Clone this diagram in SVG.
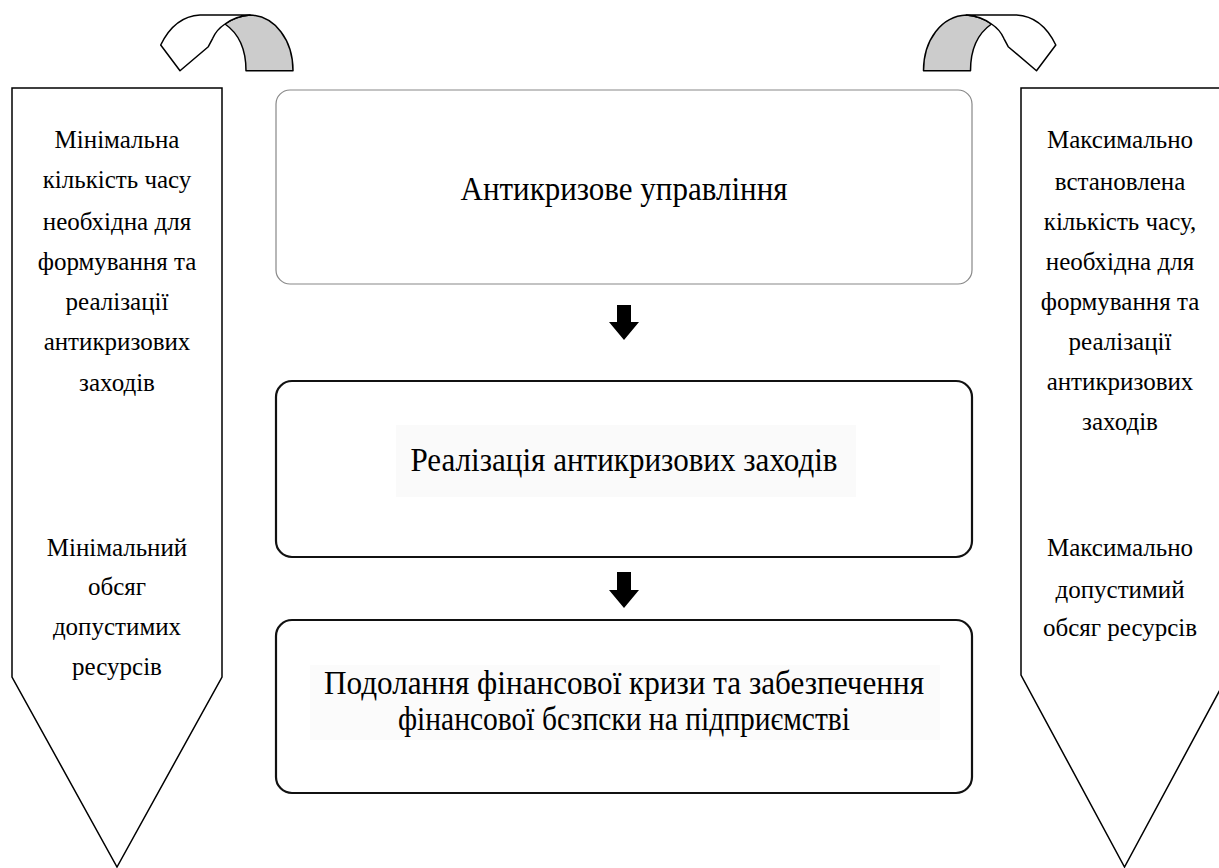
<svg xmlns="http://www.w3.org/2000/svg" width="1219" height="868" viewBox="0 0 1219 868">
<style>
.side{fill:#fff;stroke:#000;stroke-width:1.5}
.st{font-family:'Liberation Serif','Times New Roman','DejaVu Serif',serif;font-size:25px;fill:#000;text-anchor:middle}
.bt{font-family:'Liberation Serif','Times New Roman','DejaVu Serif',serif;font-size:34px;fill:#000;text-anchor:middle}
.box1{fill:#fff;stroke:#888;stroke-width:1.2}
.box{fill:#fff;stroke:#111;stroke-width:2.2}
.ribW{fill:#fff;stroke:#000;stroke-width:1.5;stroke-linejoin:round}
.ribG{fill:#ccc;stroke:#000;stroke-width:1.5;stroke-linejoin:round}
.arr{fill:#000}
</style>
<rect width="1219" height="868" fill="#fff"/>
<defs>
<g id="ribbon">
<path class="ribG" d="M225,24 Q236,16 250,15 C275,16 293,40 293,70.7 L246,70.7 C246,48 238,33 225,24 Z"/>
<path class="ribW" d="M160.7,45 C168,30 180,16 200,15 L250,15 Q236,16 225,24 C219,28 215,33 212.7,38.3 L208.3,46.7 L180,70.7 Z"/>
</g>
</defs>
<g id="ribbon-left"><use href="#ribbon"/></g>
<g id="ribbon-right"><use href="#ribbon" transform="translate(1216.5,0) scale(-1,1)"/></g>
<g id="left-panel">
<path class="side" d="M12,88 L222,88 L222,677 L117,867 L12,677 Z"/>
<text class="st" x="117" y="148">Мінімальна</text>
<text class="st" x="117" y="188">кількість часу</text>
<text class="st" x="117" y="230">необхідна для</text>
<text class="st" x="117" y="270">формування та</text>
<text class="st" x="117" y="310">реалізації</text>
<text class="st" x="117" y="350">антикризових</text>
<text class="st" x="117" y="391">заходів</text>
<text class="st" x="117" y="556">Мінімальний</text>
<text class="st" x="117" y="595">обсяг</text>
<text class="st" x="117" y="635">допустимих</text>
<text class="st" x="117" y="675">ресурсів</text>
</g>
<g id="right-panel">
<path class="side" d="M1021,88 L1228,88 L1228,675 L1124.5,867 L1021,675 Z"/>
<text class="st" x="1120" y="148">Максимально</text>
<text class="st" x="1120" y="190">встановлена</text>
<text class="st" x="1120" y="230">кількість часу,</text>
<text class="st" x="1120" y="270">необхідна для</text>
<text class="st" x="1120" y="310">формування та</text>
<text class="st" x="1120" y="350">реалізації</text>
<text class="st" x="1120" y="390">антикризових</text>
<text class="st" x="1120" y="430">заходів</text>
<text class="st" x="1120" y="556">Максимально</text>
<text class="st" x="1120" y="598">допустимий</text>
<text class="st" x="1120" y="636">обсяг ресурсів</text>
</g>
<g id="box-management">
<rect class="box1" x="276" y="90" width="696" height="194" rx="14"/>
<text class="bt" x="624" y="200" textLength="327" lengthAdjust="spacingAndGlyphs">Антикризове управління</text>
</g>
<g id="box-implementation">
<rect class="box" x="276" y="381" width="696" height="176" rx="16"/>
<rect x="396" y="425" width="460" height="72" fill="#fafafa"/>
<text class="bt" x="624" y="471" textLength="427" lengthAdjust="spacingAndGlyphs">Реалізація антикризових заходів</text>
</g>
<g id="box-result">
<rect class="box" x="276" y="620" width="696" height="173" rx="16"/>
<rect x="310" y="665" width="630" height="75" fill="#fbfbfb"/>
<text class="bt" x="624" y="694" textLength="600" lengthAdjust="spacingAndGlyphs">Подолання фінансової кризи та забезпечення</text>
<text class="bt" x="624" y="730" textLength="452" lengthAdjust="spacingAndGlyphs">фінансової бсзпски на підприємстві</text>
</g>
<g id="connectors">
<path class="arr" d="M617,305 L631,305 L631,322 L639,322 L624,340 L609,322 L617,322 Z"/>
<path class="arr" d="M617,572 L631,572 L631,590 L639,590 L624,608 L609,590 L617,590 Z"/>
</g>
</svg>
